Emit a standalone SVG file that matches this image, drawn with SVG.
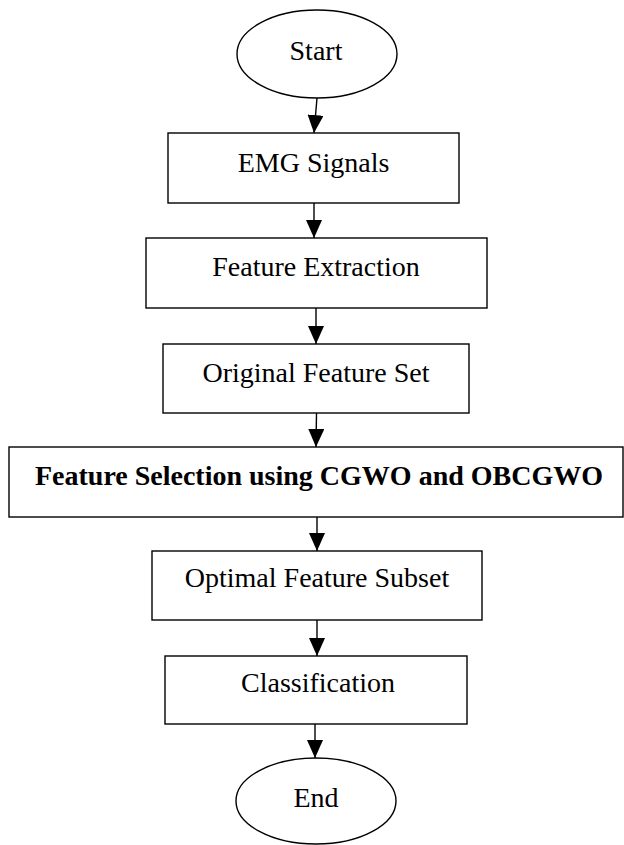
<svg xmlns="http://www.w3.org/2000/svg" width="624" height="845" viewBox="0 0 624 845">
<style>
.box{fill:#fff;stroke:#000;stroke-width:1.4}
.t{font-family:"Liberation Serif","Times New Roman",serif;font-size:28px;fill:#000;text-anchor:middle}
.b{font-weight:bold}
.c{stroke:#000;stroke-width:1.4;fill:none}
</style>
<defs>
<marker id="ah" markerUnits="userSpaceOnUse" markerWidth="18" markerHeight="16" refX="18" refY="8" orient="auto">
<path d="M0,0 L18,8 L0,16 z" fill="#000"/>
</marker>
</defs>
<rect width="624" height="845" fill="#fff"/>
<g id="connectors">
<line class="c" x1="317" y1="98" x2="314" y2="133" marker-end="url(#ah)"/>
<line class="c" x1="314" y1="203" x2="314" y2="238" marker-end="url(#ah)"/>
<line class="c" x1="316" y1="308" x2="316" y2="344" marker-end="url(#ah)"/>
<line class="c" x1="316.5" y1="413" x2="316" y2="447" marker-end="url(#ah)"/>
<line class="c" x1="317" y1="517" x2="317" y2="551" marker-end="url(#ah)"/>
<line class="c" x1="317" y1="620" x2="317" y2="656" marker-end="url(#ah)"/>
<line class="c" x1="315" y1="724" x2="315" y2="758" marker-end="url(#ah)"/>
</g>
<g id="start">
<ellipse class="box" cx="317" cy="54" rx="80" ry="44"/>
<text class="t" x="316" y="60">Start</text>
</g>
<g id="emg">
<rect class="box" x="168" y="133" width="291" height="70"/>
<text class="t" x="313.5" y="172">EMG Signals</text>
</g>
<g id="fe">
<rect class="box" x="146" y="238" width="341" height="70"/>
<text class="t" x="316" y="276">Feature Extraction</text>
</g>
<g id="ofs">
<rect class="box" x="163" y="344" width="306" height="69"/>
<text class="t" x="316" y="382">Original Feature Set</text>
</g>
<g id="fs">
<rect class="box" x="9" y="447" width="614" height="70"/>
<text class="t b" x="319" y="485">Feature Selection using CGWO and OBCGWO</text>
</g>
<g id="opt">
<rect class="box" x="152" y="551" width="330" height="69"/>
<text class="t" x="317" y="587">Optimal Feature Subset</text>
</g>
<g id="cls">
<rect class="box" x="165" y="656" width="302" height="68"/>
<text class="t" x="318" y="692">Classification</text>
</g>
<g id="end">
<ellipse class="box" cx="316" cy="801" rx="80" ry="43"/>
<text class="t" x="316" y="807">End</text>
</g>
</svg>
